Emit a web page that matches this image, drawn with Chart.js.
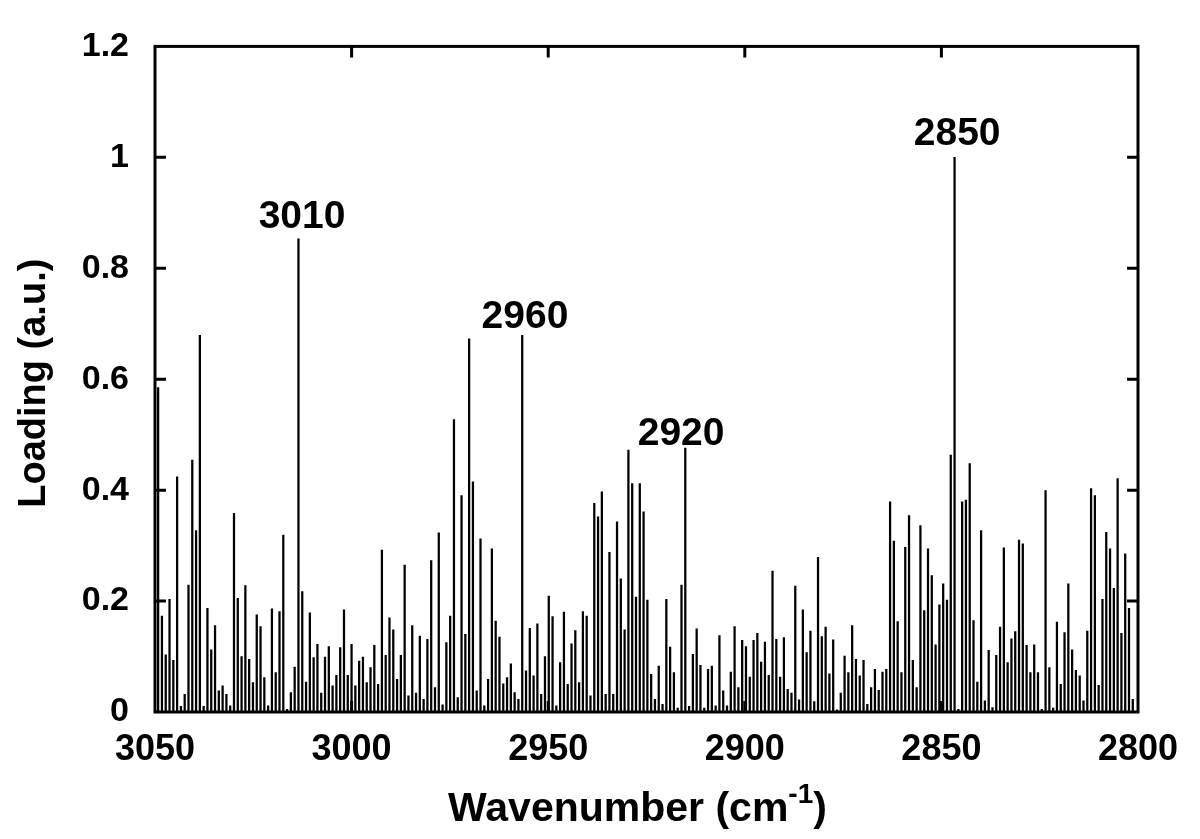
<!DOCTYPE html>
<html><head><meta charset="utf-8">
<script src="https://cdn.jsdelivr.net/npm/chart.js@4/dist/chart.umd.min.js"></script>
<style>html,body{margin:0;padding:0;background:#fff;} #wrap{width:1200px;height:839px;position:relative;}</style>
</head><body><div id="wrap"><canvas id="c" width="1200" height="839"></canvas></div>
<script>
// Spectral sampling grid (FTIR point spacing)
const START_WAVENUMBER = 3049.2;
const STEP = 0.9645;

// Loading values, from 3049 cm-1 down to 2801 cm-1
const loadings = [
 0.585,0.173,0.103,0.203,0.093,0.424,0.010,0.032,0.229,0.454,0.327,0.679,0.010,0.187,0.112,0.156,0.038,0.047,0.032,0.011,0.358,0.205,
 0.100,0.228,0.095,0.053,0.175,0.154,0.062,0.011,0.186,0.071,0.181,0.319,0.005,0.035,0.081,0.853,0.217,0.054,0.179,0.098,0.122,0.034,0.099,0.118,
 0.047,0.066,0.116,0.184,0.066,0.122,0.047,0.092,0.099,0.053,0.080,0.120,0.050,0.292,0.102,0.170,0.148,0.059,0.102,0.265,0.029,0.156,0.034,0.137,
 0.023,0.131,0.273,0.044,0.323,0.013,0.125,0.173,0.527,0.026,0.390,0.140,0.673,0.415,0.038,0.312,0.011,0.059,0.294,0.164,0.135,0.051,0.062,
 0.087,0.035,0.023,0.679,0.074,0.151,0.065,0.159,0.032,0.100,0.209,0.172,0.011,0.089,0.180,0.050,0.123,0.147,0.053,0.181,0.173,0.029,0.376,0.352,
 0.397,0.032,0.288,0.032,0.343,0.240,0.148,0.472,0.412,0.207,0.412,0.361,0.202,0.068,0.023,0.083,0.014,0.203,0.117,0.071,0.007,0.229,0.476,0.010,
 0.104,0.150,0.084,0.007,0.077,0.083,0.011,0.138,0.038,0.011,0.072,0.154,0.044,0.129,0.118,0.063,0.129,0.142,0.090,0.126,0.066,0.254,0.131,0.063,
 0.134,0.041,0.034,0.227,0.022,0.184,0.107,0.146,0.019,0.279,0.136,0.153,0.069,0.130,0.004,0.034,0.101,0.071,0.156,0.095,0.065,0.093,0.014,
 0.044,0.077,0.039,0.072,0.077,0.379,0.308,0.163,0.071,0.297,0.354,0.093,0.044,0.336,0.183,0.294,0.246,0.121,0.193,0.231,0.202,0.463,1.000,
 0.005,0.379,0.382,0.448,0.165,0.054,0.327,0.020,0.111,0.008,0.102,0.153,0.296,0.089,0.132,0.145,0.310,0.303,0.120,0.071,0.121,0.071,0.005,0.399,0.080,
 0.007,0.162,0.050,0.143,0.231,0.112,0.075,0.065,0.020,0.146,0.403,0.390,0.048,0.203,0.324,0.294,0.223,0.421,0.142,0.285,0.187,0.023
];
const wavenumbers = loadings.map((_, i) => +(START_WAVENUMBER - i * STEP).toFixed(3));

// Axis ticks
const xTicks = [3050, 3000, 2950, 2900, 2850, 2800];
const yTicks = [0, 0.2, 0.4, 0.6, 0.8, 1, 1.2];

// Peak annotations
const peakLabels = ['3010', '2960', '2920', '2850'];
const peakLabelX = [3012.6, 2955.9, 2916.2, 2846.0];
const peakLabelY = [0.8725, 0.693, 0.481, 1.0215];

const FONT = '"Liberation Sans", Arial, Helvetica, sans-serif';

const framePlugin = {
  id: 'frame',
  afterDraw(chart) {
    const ctx = chart.ctx, a = chart.chartArea;
    const xs = chart.scales.x, ys = chart.scales.y;
    ctx.save();
    ctx.strokeStyle = '#000';
    ctx.lineWidth = 3;
    ctx.strokeRect(a.left, a.top, a.right - a.left, a.bottom - a.top);
    const TL = 11;
    ctx.beginPath();
    yTicks.forEach(v => {
      if (v <= ys.min || v >= ys.max) return;
      const y = ys.getPixelForValue(v);
      ctx.moveTo(a.left, y); ctx.lineTo(a.left + TL, y);
      ctx.moveTo(a.right, y); ctx.lineTo(a.right - TL, y);
    });
    xTicks.forEach(v => {
      if (v <= xs.min || v >= xs.max) return;
      const x = xs.getPixelForValue(v);
      ctx.moveTo(x, a.bottom); ctx.lineTo(x, a.bottom - TL);
      ctx.moveTo(x, a.top); ctx.lineTo(x, a.top + TL);
    });
    ctx.stroke();

    // peak labels
    ctx.fillStyle = '#000';
    ctx.font = 'bold 39px ' + FONT;
    ctx.textAlign = 'center';
    ctx.textBaseline = 'alphabetic';
    peakLabels.forEach((t, i) => {
      ctx.fillText(t, xs.getPixelForValue(peakLabelX[i]), ys.getPixelForValue(peakLabelY[i]));
    });

    // y axis title
    ctx.save();
    ctx.translate(35, (a.top + a.bottom) / 2 + 4);
    ctx.rotate(-Math.PI / 2);
    ctx.font = 'bold 38px ' + FONT;
    ctx.textAlign = 'center';
    ctx.textBaseline = 'middle';
    ctx.fillText('Loading (a.u.)', 0, 0);
    ctx.restore();

    // x axis title with superscript
    const main = 'Wavenumber (cm', sup = '-1', close = ')';
    const fMain = 'bold 41px ' + FONT, fSup = 'bold 28px ' + FONT;
    ctx.font = fMain; const w1 = ctx.measureText(main).width, w3 = ctx.measureText(close).width;
    ctx.font = fSup; const w2 = ctx.measureText(sup).width;
    const total = w1 + w2 + w3;
    let x0 = (a.left + a.right) / 2 - 9 - total / 2;
    const base = 821;
    ctx.textAlign = 'left';
    ctx.textBaseline = 'alphabetic';
    ctx.font = fMain; ctx.fillText(main, x0, base);
    ctx.font = fSup; ctx.fillText(sup, x0 + w1, base - 18);
    ctx.font = fMain; ctx.fillText(close, x0 + w1 + w2, base);
    ctx.restore();
  }
};

new Chart(document.getElementById('c'), {
  type: 'bar',
  data: {
    datasets: [{
      data: wavenumbers.map((w, i) => ({ x: w, y: loadings[i] })),
      backgroundColor: '#000',
      borderWidth: 0,
      barThickness: 1.6
    }]
  },
  options: {
    responsive: false,
    animation: false,
    devicePixelRatio: 1,
    layout: { padding: { left: 0, right: 62, top: 43, bottom: 0 } },
    plugins: { legend: { display: false }, tooltip: { enabled: false } },
    scales: {
      x: {
        type: 'linear', min: 2800, max: 3050, reverse: true, offset: false,
        grid: { display: false, drawTicks: false, offset: false },
        border: { display: false },
        afterBuildTicks: s => { s.ticks = xTicks.map(v => ({ value: v })); },
        afterFit: s => { s.height = 127; },
        ticks: { color: '#000', font: { family: FONT, size: 36, weight: 'bold' }, padding: 16, maxRotation: 0, autoSkip: false,
                 callback: v => String(v) }
      },
      y: {
        min: 0, max: 1.2,
        grid: { display: false, drawTicks: false },
        border: { display: false },
        afterBuildTicks: s => { s.ticks = yTicks.map(v => ({ value: v })); },
        afterFit: s => { s.width = 155; },
        ticks: { color: '#000', font: { family: FONT, size: 34, weight: 'bold' }, padding: 26,
                 callback: v => String(+(+v).toFixed(1)) }
      }
    }
  },
  plugins: [framePlugin]
});
</script>
</body></html>
